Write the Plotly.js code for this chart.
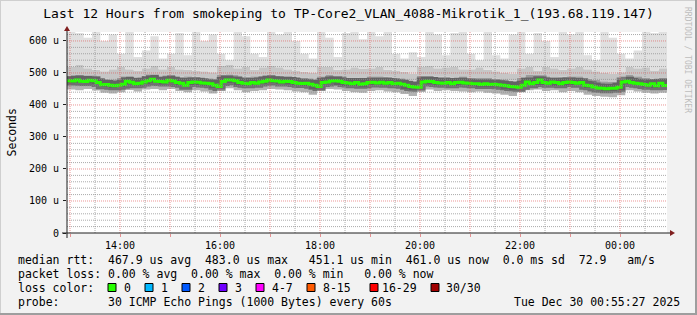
<!DOCTYPE html>
<html><head><meta charset="utf-8">
<script src="https://cdn.plot.ly/plotly-3.0.1.min.js"></script>
<style>html,body{margin:0;padding:0;background:#f2f2f2}#chart{width:697px;height:315px}</style>
</head><body><div id="chart"></div>
<script>
// ---- data (microseconds) ----
const medianRtt = [
 476,475,478,474,473,477,476,470,463,464,462,460,462,465,474,471,466,468,472,476,480,474,473,472,
 477,475,470,468,462,470,472,471,469,468,466,462,458,473,478,478,476,470,468,466,470,468,472,474,
 478,476,475,472,474,473,470,468,467,468,465,462,458,470,472,475,476,474,470,469,466,470,465,466,
 470,471,469,471,468,470,466,468,465,462,458,456,455,472,474,473,470,469,468,470,466,470,471,469,
 468,466,466,464,466,464,465,463,462,460,458,457,455,462,472,466,470,478,470,468,472,470,466,470,
 472,470,468,470,462,460,456,453,452,451,452,452,455,472,474,470,468,466,464,462,466,460,468,461];
const smokeMin = [
 448,446,450,445,438,436,440,447,442,448,450,446,
 450,444,440,446,442,436,448,452,446,440,444,446,
 450,448,446,442,440,432,446,450,448,444,440,438,
 444,446,442,440,434,428,446,448,444,446,444,442,
 440,442,438,436,432,428,440,446,448,444,446,440,
 444,440,432,428,426,424,430,446,442,438,436,438];
const smokeP25 = [
 466,467,466,464,455,453,455,463,458,465,467,463,
 467,460,462,461,458,452,467,468,460,458,460,464,
 468,464,463,460,458,450,463,466,462,458,458,456,
 462,461,460,458,450,446,464,463,460,460,458,461,
 458,456,456,454,450,446,456,464,462,462,458,459,
 462,461,452,448,444,443,446,464,460,456,453,456];
const smokeP75 = [
 492,494,492,490,482,480,484,490,486,492,494,490,
 494,488,490,488,486,480,494,496,488,488,490,492,
 494,492,490,488,486,480,490,494,490,486,486,484,
 490,490,488,486,480,476,492,492,488,488,486,490,
 486,484,484,482,480,476,486,494,490,490,486,488,
 490,490,482,478,474,472,478,494,490,486,482,486];
const smokeP90 = [
 520,525,515,510,505,512,520,512,508,515,522,512,
 520,512,510,508,505,502,522,525,515,520,510,518,
 522,518,512,506,504,500,520,520,510,512,518,514,
 515,520,510,506,504,498,520,522,515,518,520,512,
 512,518,510,505,500,498,515,520,508,520,515,510,
 515,520,512,505,500,498,502,520,515,518,508,515];
const smokeMax = [
 630,625,610,628,600,620,560,632,550,570,615,545,
 560,625,555,630,600,620,560,540,630,615,560,550,
 630,620,632,600,560,545,630,610,550,625,632,605,
 630,615,630,560,545,565,550,630,620,555,625,630,
 560,540,630,555,545,620,630,560,625,600,550,630,
 620,632,555,540,630,610,560,545,570,630,625,632];
const hourTickLabels = ['','14:00','','16:00','','18:00','','20:00','','22:00','','00:00'];
const yTickValues = [0,100,200,300,400,500,600];
const yTickLabels = ['0','100 u','200 u','300 u','400 u','500 u','600 u'];
const lossLabels = ['0','1','2','3','4-7','8-15','16-29','30/30'];
const lossColors = ['#26ff00','#00b8ff','#0059ff','#7000ff','#ff00ff','#ff5a00','#ff0000','#a10000'];
const titleText = 'Last 12 Hours from smokeping to TP-Core2_VLAN_4088-Mikrotik_1_(193.68.119.147)';
const statsLine = 'median rtt:  467.9 us avg  483.0 us max   451.1 us min  461.0 us now  0.0 ms sd  72.9   am/s';
const lossLine = 'packet loss: 0.00 % avg  0.00 % max  0.00 % min   0.00 % now';
const probeLine = 'probe:       30 ICMP Echo Pings (1000 Bytes) every 60s';
const dateLine = 'Tue Dec 30 00:55:27 2025';

// ---- geometry helpers ----
const L=67, R=667, T=32, B=233;
const px = x => (x-L)/(R-L);
const py = y => (B-y)/(B-T);
const nb = s => s.replace(/ /g,'\u00a0');
const t0 = Date.UTC(2025,11,29,12,56,24);
const t1 = t0 + 12*3600e3;

function stepX(n, stepMs){ const a=[]; for(let i=0;i<=n;i++) a.push(t0+i*stepMs); return a; }
function ext(arr){ return arr.concat([arr[arr.length-1]]); }
const xs = stepX(smokeMin.length, 600e3);
const xm = stepX(medianRtt.length, 300e3);

const band = (y, color, fill) => ({x: xs, y: ext(y), type:'scatter', mode:'lines',
  line:{width:0, shape:'hv'}, fill: fill ? 'tonexty':'none', fillcolor: color, hoverinfo:'skip', showlegend:false});
const traces = [
  band(smokeMin, null, false),
  band(smokeP25, '#b2b2b2', true),
  band(smokeP75, '#9c9c9c', true),
  band(smokeP90, '#c6c6c6', true),
  band(smokeMax, '#e0e0e0', true),
  {x: xm, y: ext(medianRtt), type:'scatter', mode:'lines', line:{shape:'hv', width:9, color:'rgba(30,30,30,0.45)'}, showlegend:false},
  {x: xm, y: ext(medianRtt), type:'scatter', mode:'lines', line:{shape:'hv', width:3, color:'#26ff00'}, showlegend:false}
];

// ---- grid as shapes above data ----
const GRID='rgba(143,143,143,0.75)', MGRID='rgba(222,79,79,0.6)', DASH='1px,1px';
const shapes=[];
for(let v=20; v<=620; v+=20){
  shapes.push({type:'line', layer:'above', xref:'paper', x0:0, x1:1, yref:'y', y0:v, y1:v,
    line:{color: v%100===0?MGRID:GRID, width:1, dash:DASH}});
}
const h13 = Date.UTC(2025,11,29,13,0,0);
const tickVals=[];
for(let k=0;k<12;k++) tickVals.push(h13+k*3600e3);
for(let k=-1;k<24;k++){
  const t = h13 + k*1800e3; if(t<=t0||t>=t1) continue;
  shapes.push({type:'line', layer:'above', yref:'paper', y0:0, y1:1, xref:'x', x0:t, x1:t,
    line:{color: k%2===0?MGRID:GRID, width:1, dash:DASH}});
}
// axes + arrows
shapes.push({type:'line', layer:'above', xref:'paper', yref:'paper', x0:px(62), x1:px(671), y0:0, y1:0, line:{color:'#1f1f1f', width:1}});
shapes.push({type:'line', layer:'above', xref:'paper', yref:'paper', x0:0, x1:0, y0:py(238), y1:py(29), line:{color:'#1f1f1f', width:1}});
shapes.push({type:'path', layer:'above', xref:'paper', yref:'paper',
  path:`M ${px(670)} ${py(230)} L ${px(675)} ${py(233)} L ${px(670)} ${py(236)} Z`, fillcolor:'#801f1f', line:{width:0}});
shapes.push({type:'path', layer:'above', xref:'paper', yref:'paper',
  path:`M ${px(64)} ${py(31)} L ${px(67)} ${py(26)} L ${px(70)} ${py(31)} Z`, fillcolor:'#801f1f', line:{width:0}});
// frame
shapes.push({type:'line', xref:'paper', yref:'paper', x0:px(0), x1:px(697), y0:py(0.5), y1:py(0.5), line:{color:'#cfcfcf', width:1}});
shapes.push({type:'line', xref:'paper', yref:'paper', x0:px(0.5), x1:px(0.5), y0:py(0), y1:py(315), line:{color:'#cfcfcf', width:1}});
shapes.push({type:'line', xref:'paper', yref:'paper', x0:px(0), x1:px(697), y0:py(314), y1:py(314), line:{color:'#9e9e9e', width:2}});
shapes.push({type:'line', xref:'paper', yref:'paper', x0:px(696), x1:px(696), y0:py(0), y1:py(315), line:{color:'#9e9e9e', width:2}});

// ---- legend area ----
const F = {family:'DejaVu Sans Mono', size:11.5, color:'#000'};
const ann = (x, y, text, extra) => Object.assign({xref:'paper', yref:'paper', x:px(x), y:py(y), text:nb(text),
  showarrow:false, xanchor:'left', yanchor:'middle', font:F}, extra||{});
const annotations = [
  ann(16, 259.5, statsLine),
  ann(16, 273.5, lossLine),
  ann(16, 287.5, 'loss color:'),
  ann(16, 301.5, probeLine),
  ann(682, 301.5, dateLine, {xanchor:'right'}),
  ann(11, 132.5, 'Seconds', {xanchor:'center', textangle:-90}),
  ann(688, 60, 'RRDTOOL / TOBI OETIKER', {xanchor:'center', textangle:90, font:{family:'DejaVu Sans Mono', size:8, color:'#bdbdbd'}})
];
const boxX = [108,145,182,219,256,307,370,431];
const labX = [123,160,197,234,271,322,381,445];
lossLabels.forEach((lab,i)=>{
  shapes.push({type:'rect', xref:'paper', yref:'paper', x0:px(boxX[i]), x1:px(boxX[i]+8), y0:py(283.5), y1:py(291.5),
    fillcolor:lossColors[i], line:{color:'#000', width:1}});
  annotations.push(ann(labX[i]-1, 287.5, lab));
});

const layout = {
  width:697, height:315, margin:{l:L, r:697-R, t:T, b:315-B},
  paper_bgcolor:'#f2f2f2', plot_bgcolor:'#ffffff', showlegend:false,
  title:{text:titleText, font:{family:'DejaVu Sans Mono', size:13, color:'#000'}, x:0.5, xref:'container', xanchor:'center', y:1-13/315, yref:'container', yanchor:'middle'},
  xaxis:{type:'date', range:[t0,t1], tickmode:'array', tickvals:tickVals, ticktext:hourTickLabels,
    showgrid:false, zeroline:false, showline:false, ticks:'outside', ticklen:3, tickcolor:MGRID,
    tickfont:{family:'DejaVu Sans Mono', size:10, color:'#000'}, fixedrange:true},
  yaxis:{range:[0,628], tickmode:'array', tickvals:yTickValues, ticktext:yTickLabels,
    showgrid:false, zeroline:false, showline:false, ticks:'outside', ticklen:3, tickcolor:'#1f1f1f',
    ticklabelstandoff:2, tickfont:{family:'DejaVu Sans Mono', size:10, color:'#000'}, fixedrange:true},
  shapes, annotations
};
Plotly.newPlot('chart', traces, layout, {displayModeBar:false, staticPlot:true});
</script></body></html>
